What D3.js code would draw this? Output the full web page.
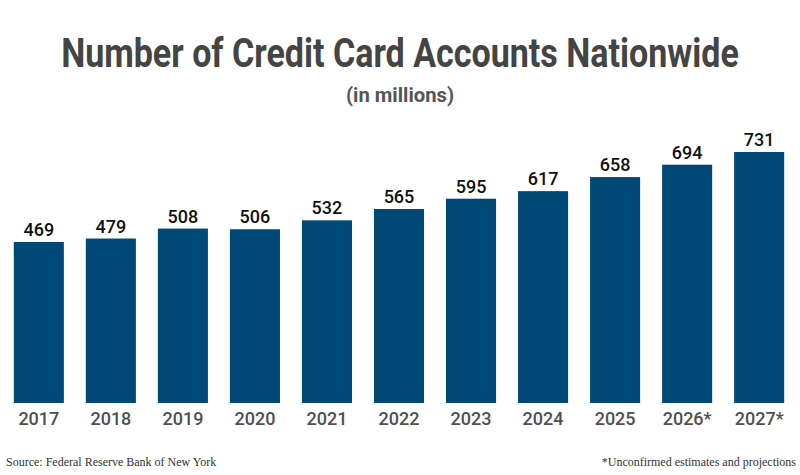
<!DOCTYPE html>
<html>
<head>
<meta charset="utf-8">
<script src="https://cdn.jsdelivr.net/npm/d3@7"></script>
<style>
  body { margin: 0; background: #fff; }
  svg { display: block; }
</style>
</head>
<body>
<svg id="chart" width="800" height="475"></svg>
<script>
const years = ['2017', '2018', '2019', '2020', '2021', '2022', '2023', '2024', '2025', '2026*', '2027*'];
const accounts = [469, 479, 508, 506, 532, 565, 595, 617, 658, 694, 731];

const w = 800;
const h = 475;

const svg = d3.select('#chart');

// squeeze Roboto to look like the condensed face of the original
const condensed = (sel, cx, cy, target) => {
  const natural = sel.node().getComputedTextLength();
  sel.attr('transform', `translate(${cx}, ${cy}) scale(${target / natural}, 1)`);
};

const title = svg.append('text')
  .attr('text-anchor', 'middle')
  .attr('font-family', 'Roboto')
  .attr('font-weight', 700)
  .attr('font-size', 40)
  .attr('fill', '#444')
  .text('Number of Credit Card Accounts Nationwide');
condensed(title, w / 2, 67, 678);

const subtitle = svg.append('text')
  .attr('text-anchor', 'middle')
  .attr('font-family', 'Roboto')
  .attr('font-weight', 700)
  .attr('font-size', 21)
  .attr('fill', '#555')
  .text('(in millions)');
condensed(subtitle, w / 2, 102, 108);

// scales
const x = d3.scaleBand()
  .domain(years)
  .range([3, 795])
  .paddingInner(0.305)
  .paddingOuter(0.15);

const y = d3.scaleLinear()
  .domain([0, 731])
  .range([403, 152]);

const g = svg.append('g');

g.selectAll('rect')
  .data(accounts)
  .enter()
  .append('rect')
    .attr('x', (d, i) => x(years[i]))
    .attr('y', (d) => y(d))
    .attr('width', x.bandwidth())
    .attr('height', (d) => y(0) - y(d))
    .attr('fill', '#004876');

g.selectAll('.value')
  .data(accounts)
  .enter()
  .append('text')
    .attr('class', 'value')
    .attr('x', (d, i) => x(years[i]) + x.bandwidth() / 2)
    .attr('y', (d) => y(d) - 6)
    .attr('text-anchor', 'middle')
    .attr('font-family', 'Roboto')
    .attr('font-weight', 500)
    .attr('font-size', 18)
    .attr('fill', '#111')
    .text((d) => d);

// x axis, labels only
const xAxis = svg.append('g')
  .attr('transform', `translate(0, ${y(0)})`)
  .call(d3.axisBottom(x).tickSize(0).tickPadding(9));

xAxis.select('.domain').remove();
xAxis.selectAll('text')
  .attr('font-family', 'Roboto')
  .attr('font-weight', 500)
  .attr('font-size', 18)
  .attr('fill', '#505050');

// footer
svg.append('text')
  .attr('x', 6)
  .attr('y', 466)
  .attr('font-family', 'Liberation Serif')
  .attr('font-size', 12)
  .attr('fill', '#333')
  .text('Source: Federal Reserve Bank of New York');

svg.append('text')
  .attr('x', 796)
  .attr('y', 466)
  .attr('text-anchor', 'end')
  .attr('font-family', 'Liberation Serif')
  .attr('font-size', 12)
  .attr('fill', '#333')
  .text('*Unconfirmed estimates and projections');
</script>
</body>
</html>
